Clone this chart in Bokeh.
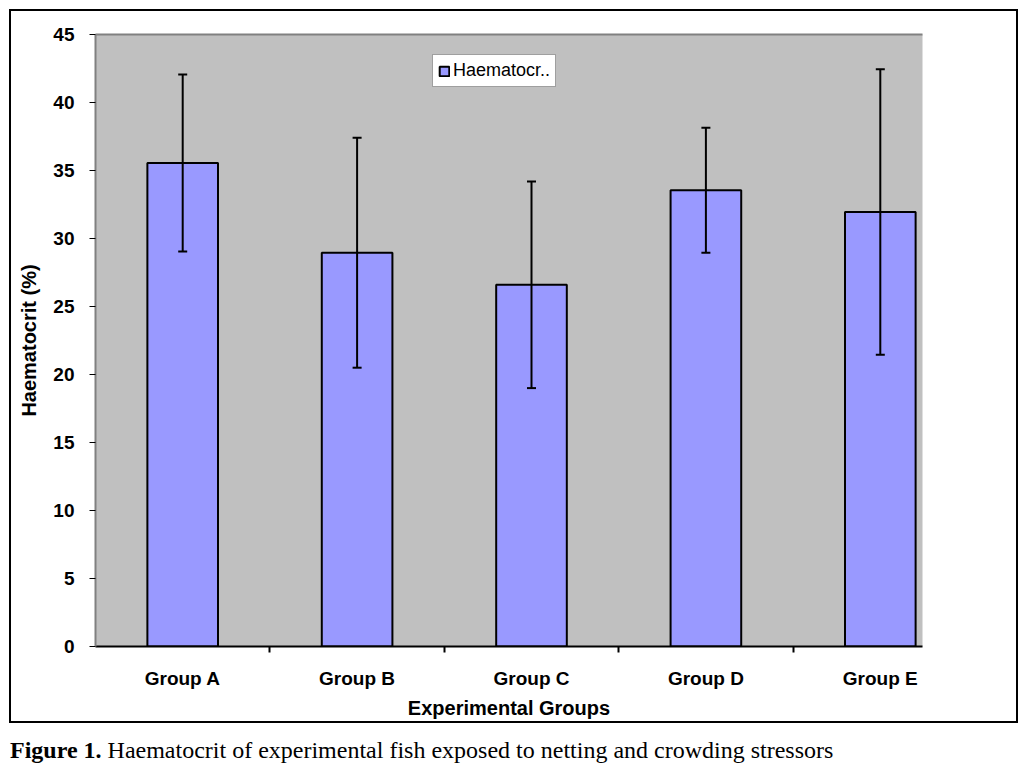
from bokeh.plotting import figure
from bokeh.models import (ColumnDataSource, FixedTicker, LinearAxis, Range1d,
                          Whisker, TeeHead, Div, Legend)
from bokeh.layouts import column
from bokeh.embed import file_html
from bokeh.resources import INLINE

# ---- data ----
groups = ["Group A", "Group B", "Group C", "Group D", "Group E"]
haematocrit = [35.55, 28.95, 26.6, 33.55, 31.95]
sd = [6.5, 8.45, 7.6, 4.6, 10.5]
y_ticks = [0, 5, 10, 15, 20, 25, 30, 35, 40, 45]
series_name = "Haematocr.."
x_title = "Experimental Groups"
y_title = "Haematocrit (%)"
caption_bold = "Figure 1."
caption_text = "Haematocrit of experimental fish exposed to netting and crowding stressors"

xs = list(range(len(groups)))
src = ColumnDataSource(dict(
    x=xs, top=haematocrit,
    upper=[m + s for m, s in zip(haematocrit, sd)],
    lower=[m - s for m, s in zip(haematocrit, sd)],
))

CAT_PX = 174.4
FRAME_W = 827
p = figure(width=1005, height=710, output_backend="svg", toolbar_location=None,
           x_range=Range1d(-0.5, -0.5 + FRAME_W / CAT_PX), y_range=Range1d(0, 45),
           min_border_left=84, min_border_right=94, min_border_top=23, min_border_bottom=74,
           x_axis_type=None, y_axis_type=None, margin=(11, 0, 0, 11))
p.background_fill_color = "#C0C0C0"
p.border_fill_color = "white"
p.outline_line_color = None
p.styles = {"box-shadow": "0 0 0 2px black"}

# x axis
xaxis = LinearAxis(ticker=FixedTicker(ticks=xs, minor_ticks=[i + 0.5 for i in xs[:-1]]))
xaxis.major_label_overrides = {i: g for i, g in zip(xs, groups)}
xaxis.major_tick_out = 0
xaxis.major_tick_in = 0
xaxis.major_tick_line_color = None
xaxis.minor_tick_out = 6
xaxis.minor_tick_in = 0
xaxis.minor_tick_line_color = "black"
xaxis.minor_tick_line_width = 2
xaxis.axis_line_color = "black"
xaxis.axis_line_width = 2
xaxis.major_label_standoff = 15
xaxis.major_label_text_font = "Liberation Sans"
xaxis.major_label_text_font_style = "bold"
xaxis.major_label_text_font_size = "19px"
xaxis.major_label_text_color = "black"
xaxis.axis_label = x_title
xaxis.axis_label_standoff = 5
xaxis.axis_label_text_font = "Liberation Sans"
xaxis.axis_label_text_font_style = "bold"
xaxis.axis_label_text_font_size = "20px"
xaxis.axis_label_text_color = "black"
p.add_layout(xaxis, "below")

# y axis
yaxis = LinearAxis(ticker=FixedTicker(ticks=y_ticks))
yaxis.axis_line_color = "#808080"
yaxis.axis_line_width = 2
yaxis.major_tick_out = 6
yaxis.major_tick_in = 0
yaxis.major_tick_line_color = "black"
yaxis.major_tick_line_width = 1
yaxis.minor_tick_line_color = None
yaxis.major_label_standoff = 15
yaxis.major_label_text_font = "Liberation Sans"
yaxis.major_label_text_font_style = "bold"
yaxis.major_label_text_font_size = "19px"
yaxis.major_label_text_color = "black"
yaxis.axis_label = y_title
yaxis.axis_label_standoff = 10
yaxis.axis_label_text_font = "Liberation Sans"
yaxis.axis_label_text_font_style = "bold"
yaxis.axis_label_text_font_size = "20px"
yaxis.axis_label_text_color = "black"
p.add_layout(yaxis, "left")

# top border of plot area
top = LinearAxis(ticker=FixedTicker(ticks=[]), axis_line_color="#808080", axis_line_width=2,
                 major_tick_line_color=None, minor_tick_line_color=None,
                 major_label_text_font_size="0px")
p.add_layout(top, "above")

p.xgrid.grid_line_color = None
p.ygrid.grid_line_color = "black"
p.ygrid.grid_line_width = 1
p.ygrid.ticker = FixedTicker(ticks=y_ticks)

bars = p.vbar(x="x", top="top", width=0.405, source=src, fill_color="#9999FF",
              line_color="black", line_width=2)

w = Whisker(base="x", upper="upper", lower="lower", source=src, level="overlay",
            line_color="black", line_width=2,
            upper_head=TeeHead(size=9, line_width=2, line_color="black"),
            lower_head=TeeHead(size=9, line_width=2, line_color="black"))
p.add_layout(w)

legend = Legend(items=[(series_name, [bars])], location=(337, 559))
legend.border_line_color = "#404040"
legend.border_line_width = 1
legend.background_fill_color = "white"
legend.background_fill_alpha = 1
legend.padding = 5
legend.margin = 0
legend.spacing = 0
legend.label_standoff = 3
legend.label_height = 20
legend.glyph_width = 12
legend.glyph_height = 12
legend.label_text_font = "Liberation Sans"
legend.label_text_font_size = "18px"
legend.label_text_color = "black"
p.add_layout(legend, "center")

cap = Div(text=f'<span style="font-weight:bold">{caption_bold}</span> {caption_text}',
          width=1005, height=28, margin=(12, 0, 0, 10),
          styles={"font-family": "Liberation Serif", "font-size": "24px", "color": "black",
                  "white-space": "nowrap"})

layout = column(p, cap, spacing=0)
open("out.html", "w").write(file_html(layout, INLINE))
